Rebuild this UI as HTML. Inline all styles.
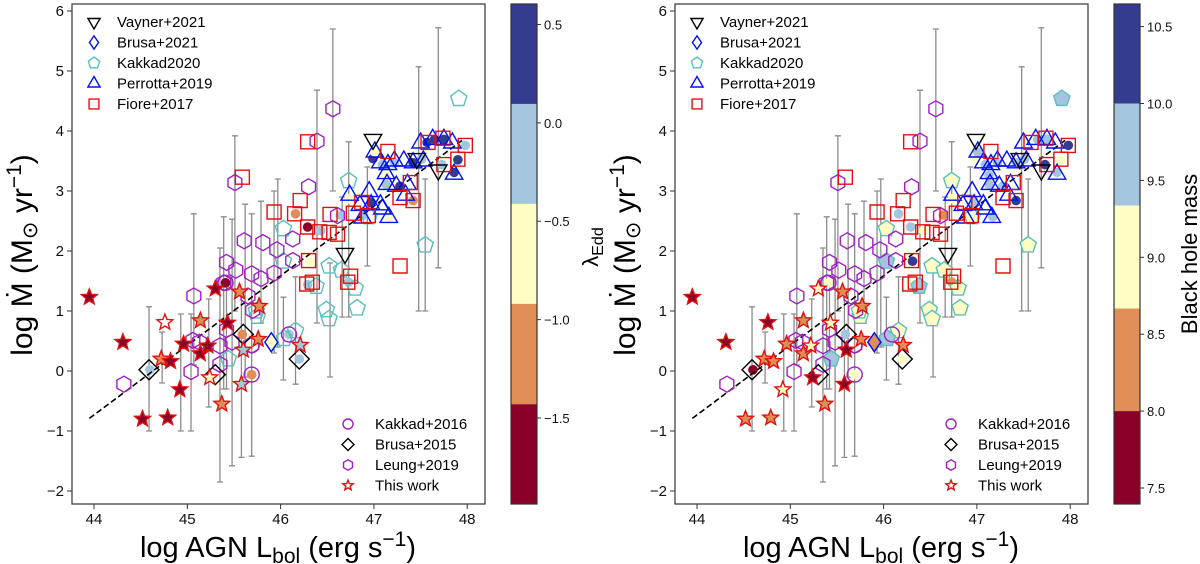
<!DOCTYPE html>
<html><head><meta charset="utf-8"><style>
body{margin:0;background:#fff;}
svg{display:block;font-family:"Liberation Sans","DejaVu Sans",sans-serif;}
</style></head><body>
<svg id="fig" width="1200" height="564" xmlns="http://www.w3.org/2000/svg"></svg>
<script>
// ---- data ----
const errX=[44.59,44.73,44.93,45.04,45.07,45.23,45.35,45.39,45.42,45.48,45.51,45.58,45.62,45.69,45.79,45.93,45.97,46.03,46.16,46.39,46.53,46.56,46.66,46.73,46.93,47.48,47.55,47.69];
const errLo=[-1.0,-0.2,-1.0,-1.0,0.1,-0.6,-1.85,-0.3,-0.3,-1.58,1.0,-1.44,-0.1,-1.42,0.8,0.3,0.4,-0.15,-0.22,0.8,-0.1,3.0,0.9,0.9,1.75,1.0,1.0,1.72];
const errHi=[1.07,0.65,0.95,0.95,2.62,1.2,2.05,2.57,1.5,2.53,3.92,1.3,2.78,2.62,2.83,3.0,3.2,1.23,1.57,4.68,1.8,5.7,2.9,3.82,3.4,5.07,3.2,5.72];
const dotX=[46.99,47.28,47.42,47.57,47.65,47.75,47.90,47.86,46.97,47.98,47.73,47.51,47.22,47.09,47.13,46.64,46.43,46.29,46.73,46.09,46.20,44.60,46.89,47.01,47.13,47.17,46.74,46.31,45.88,46.16,47.42,45.69,45.59,46.29,45.41];
const dotY=[3.54,3.08,3.47,3.81,3.86,3.86,3.52,3.31,2.81,3.76,3.44,3.53,3.47,3.44,3.11,2.60,2.34,1.44,1.48,0.61,0.20,0.02,2.60,3.65,3.26,2.57,2.87,1.83,0.48,2.62,2.84,-0.06,0.61,2.40,1.47];
const dotLam=[0.3,0.3,0.3,0.3,0.3,0.3,0.3,0.3,0.3,-0.2,-0.2,-0.2,-0.2,-0.2,-0.2,-0.2,-0.2,-0.2,-0.2,-0.2,-0.2,-0.2,-0.2,-0.6,-0.6,-0.6,-0.6,-0.6,-0.6,-1.1,-1.1,-1.1,-1.1,-1.7,-1.7];
const dotMass=[9.0,9.6,9.6,9.0,9.6,9.6,9.0,9.6,9.6,10.3,10.3,9.6,9.6,9.6,9.6,8.3,9.0,9.0,8.3,9.6,9.0,7.6,9.0,9.6,9.6,9.6,9.0,10.3,8.3,9.6,10.3,9.0,9.6,9.6,9.0];
const fioreX=[46.29,45.59,45.93,46.15,46.21,46.29,46.42,46.53,46.52,46.61,46.30,46.28,46.34,46.72,46.75,46.78,46.87,46.94,47.15,47.28,47.39,47.42,47.28,47.58,47.74,47.75,47.90,47.98];
const fioreY=[3.82,3.23,2.65,2.62,2.84,2.40,2.32,2.61,2.31,2.28,1.84,1.45,1.48,1.48,1.58,2.63,2.81,2.59,3.66,2.89,3.14,2.84,1.75,3.81,3.88,3.44,3.53,3.76];
const vaynerX=[46.99,46.69,47.69,47.46];
const vaynerY=[3.86,1.96,3.35,3.54];
const perrX=[47.01,47.07,47.22,47.32,47.42,47.53,47.13,47.14,47.24,46.95,46.74,46.85,46.97,47.07,47.09,46.88,47.16,47.34,47.50,47.63,47.75,47.84,47.86,47.36,47.15];
const perrY=[3.65,3.47,3.50,3.50,3.47,3.50,3.29,3.11,3.08,2.99,2.93,2.76,2.77,2.77,2.70,2.55,2.56,2.93,3.80,3.86,3.86,3.80,3.28,3.11,3.44];
const k20X=[47.91,46.73,46.03,46.03,46.52,46.65,46.80,46.38,46.49,46.52,46.82,47.55,45.75,45.44,46.16,46.04,46.95,45.74];
const k20Y=[4.54,3.17,2.37,1.83,1.75,1.68,1.38,1.41,1.02,0.87,1.05,2.10,0.91,0.20,0.67,0.54,2.57,1.00];
const k20Mass=[9.6,9.0,9.0,9.6,9.0,9.0,9.0,9.6,9.0,9.0,9.0,9.0,9.0,9.6,9.0,9.6,9.0,9.0];
const leungX=[45.51,46.39,46.56,46.30,46.61,45.61,45.81,45.96,46.13,45.42,45.52,45.69,45.79,45.93,46.13,45.07,45.65,45.70,45.42,45.06,45.13,45.48,45.35,45.35,45.04,44.32,45.69,45.39];
const leungY=[3.14,3.83,4.37,3.07,2.59,2.17,2.14,2.02,2.20,1.81,1.68,1.62,1.54,1.63,1.84,1.25,1.25,1.01,0.69,0.51,0.48,0.48,0.42,0.11,-0.01,-0.22,0.43,1.47];
const k16X=[45.69,46.09,45.41,45.69];
const k16Y=[-0.06,0.61,1.47,0.43];
const b15X=[44.59,45.30,45.60,46.20];
const b15Y=[0.02,-0.06,0.61,0.20];
const b21X=[45.90];
const b21Y=[0.48];
const starX=[43.95,44.31,44.52,44.79,44.76,44.72,44.82,44.92,44.96,45.14,45.14,45.22,45.24,45.30,45.37,45.43,45.56,45.60,45.58,45.77,45.76,46.21];
const starY=[1.23,0.48,-0.80,-0.78,0.81,0.20,0.16,-0.31,0.45,0.84,0.29,0.42,-0.11,1.37,-0.55,0.80,1.32,0.35,-0.22,1.08,0.53,0.43];
const starLam=[-1.7,-1.7,-1.7,-1.7,null,-1.1,-1.7,-1.7,-1.7,-1.1,-1.7,-1.7,-0.6,-1.7,-1.1,-1.7,-1.1,-0.2,-0.2,-1.1,-1.1,-0.2];
const starMass=[7.6,7.6,8.3,8.3,7.6,8.3,8.3,9.0,8.3,8.3,8.3,9.0,7.6,9.0,8.3,9.0,8.3,7.6,7.6,8.3,8.3,8.3];
const fitX=[43.95,47.96];
const fitY=[-0.79,3.86];
const xTicks=[44,45,46,47,48];
const yTicks=[-2,-1,0,1,2,3,4,5,6];
const lamTicks=[0.5,0.0,-0.5,-1.0,-1.5];
const lamBounds=[0.604,0.096,-0.412,-0.92,-1.43,-1.937];
const massTicks=[10.5,10.0,9.5,9.0,8.5,8.0,7.5];
const massBounds=[10.647,10.0,9.336,8.667,8.0,7.396];
const cmap=['#343c8f','#a4c5de','#fefec4','#e08e56','#8a0028'];

const NS='http://www.w3.org/2000/svg';
const svg=document.getElementById('fig');
function el(tag,attrs,parent){const e=document.createElementNS(NS,tag);for(const k in attrs)e.setAttribute(k,attrs[k]);(parent||svg).appendChild(e);return e;}
function band(v,b){for(let i=1;i<b.length;i++){if(v>=b[i])return cmap[i-1];}return cmap[4];}

function markerPath(type,cx,cy){
  let pts=[];
  if(type==='sq'){const s=7;return `M${cx-s},${cy-s}H${cx+s}V${cy+s}H${cx-s}Z`;}
  if(type==='tri'){pts=[[0,-10],[8.7,5],[-8.7,5]];}
  if(type==='vtri'){pts=[[0,10],[8.7,-5],[-8.7,-5]];}
  if(type==='dia'){pts=[[0,-9.5],[6.5,0],[0,9.5],[-6.5,0]];}
  if(type==='bdia'){pts=[[0,-10],[10,0],[0,10],[-10,0]];}
  if(type==='hex'){for(let i=0;i<6;i++){const a=Math.PI/2+i*Math.PI/3;pts.push([8*Math.cos(a),-8*Math.sin(a)]);}}
  if(type==='pent'){for(let i=0;i<5;i++){const a=Math.PI/2+i*2*Math.PI/5;pts.push([8.5*Math.cos(a),-8.5*Math.sin(a)]);}}
  if(type==='star'){for(let i=0;i<10;i++){const a=Math.PI/2+i*Math.PI/5;const r=i%2?3.6:8.3;pts.push([r*Math.cos(a),-r*Math.sin(a)]);}}
  return 'M'+pts.map(p=>(cx+p[0]).toFixed(1)+','+(cy+p[1]).toFixed(1)).join('L')+'Z';
}
function legendMarker(g,type,cx,cy,stroke,sc){
  const p=el('path',{d:markerPath(type,0,0),fill:'none',stroke:stroke,'stroke-width':1.4/sc,transform:`translate(${cx},${cy}) scale(${sc})`},g);
  
  
}

function panel(off,useMass,id){
  const L=72+off,R=485+off,T=4,B=504;
  const X=v=>94+off+(v-44)*93.3;
  const Y=v=>491-(v+2)*60;
  const g=el('g',{});
  
  
  const clip=el('clipPath',{id:'c'+id},g);el('rect',{x:L,y:T,width:R-L,height:B-T},clip);
  const pg=el('g',{'clip-path':`url(#c${id})`},g);
  errX.forEach((x,i)=>{
    const e=el('path',{d:`M${X(x)},${Y(errLo[i])}V${Y(errHi[i])}M${X(x)-3},${Y(errLo[i])}H${X(x)+3}M${X(x)-3},${Y(errHi[i])}H${X(x)+3}`,stroke:'#8c8c8c','stroke-width':1.3,fill:'none'},pg);
    
    
  });
  dotX.forEach((x,i)=>{
    const c=el('circle',{cx:X(x),cy:Y(dotY[i]),r:4.8,fill:useMass?band(dotMass[i],massBounds):band(dotLam[i],lamBounds)},pg);
    
    
  });
  const fl=el('line',{x1:X(fitX[0]),y1:Y(fitY[0]),x2:X(fitX[1]),y2:Y(fitY[1]),stroke:'#000','stroke-width':1.6,'stroke-dasharray':'6,3'},pg);
  
  
  function series(xs,ys,type,stroke,fills,name){
    xs.forEach((x,i)=>{
      const p=el('path',{d:markerPath(type,X(x),Y(ys[i])),fill:fills?fills[i]:'none',stroke:stroke,'stroke-width':1.4},pg);
      
      
    });
  }
  series(k20X,k20Y,'pent','#5bbfbf',useMass?k20Mass.map(m=>band(m,massBounds)):null,'kakkad2020-point');
  series(leungX,leungY,'hex','#a020c0',null,'leung2019-point');
  k16X.forEach((x,i)=>{const c=el('circle',{cx:X(x),cy:Y(k16Y[i]),r:7.5,fill:'none',stroke:'#a020c0','stroke-width':1.4},pg);
    
    });
  series(b15X,b15Y,'bdia','#000',null,'brusa2015-point');
  series(b21X,b21Y,'dia','#0010f0',[useMass?'#e08e56':'#fefec4'],'brusa2021-point');
  series(perrX,perrY,'tri','#0010f0',null,'perrotta2019-point');
  series(fioreX,fioreY,'sq','#e01010',null,'fiore2017-point');
  series(vaynerX,vaynerY,'vtri','#000',null,'vayner2021-point');
  series(starX,starY,'star','#e01010',starX.map((_,i)=>useMass?band(starMass[i],massBounds):(starLam[i]===null?'#fff':band(starLam[i],lamBounds))),'this-work-point');
  const fr=el('rect',{x:L,y:T,width:R-L,height:B-T,fill:'none',stroke:'#333','stroke-width':1.2},g);
  
  
  xTicks.forEach(t=>{el('line',{x1:X(t),x2:X(t),y1:B,y2:B+5,stroke:'#333'},g);
    const tx=el('text',{x:X(t),y:524,'font-size':15,'text-anchor':'middle',fill:'#111'},g);tx.textContent=t;
    
    });
  yTicks.forEach(t=>{el('line',{x1:L,x2:L-5,y1:Y(t),y2:Y(t),stroke:'#333'},g);
    const tx=el('text',{x:L-8,y:Y(t)+5,'font-size':15,'text-anchor':'end',fill:'#111'},g);tx.textContent=(t<0?'\u2212'+(-t):t);
    
    });
  const xl=el('text',{x:278+off,y:557,'font-size':29,'text-anchor':'middle',fill:'#000'},g);
  xl.innerHTML='log AGN L<tspan font-size="21" dy="6">bol</tspan><tspan dy="-6"> (erg s</tspan><tspan font-size="21" dy="-11">\u22121</tspan><tspan dy="11">)</tspan>';
  
  
  const yl=el('text',{x:0,y:0,'font-size':30,'text-anchor':'middle',fill:'#000',transform:`translate(${32+off},255) rotate(-90)`},g);
  yl.innerHTML='log M\u0307 (M<tspan font-size="21" dy="5">\u2299</tspan><tspan dy="-5"> yr</tspan><tspan font-size="21" dy="-11">\u22121</tspan><tspan dy="11">)</tspan>';
  
  
  const lg=el('g',{},g);
  
  
  const top=[['vtri','#000','Vayner+2021'],['dia','#0010f0','Brusa+2021'],['pent','#5bbfbf','Kakkad2020'],['tri','#0010f0','Perrotta+2019'],['sq','#e01010','Fiore+2017']];
  top.forEach((r,i)=>{const y=22+i*20.5;legendMarker(lg,r[0],98+off-4,y,r[1],0.7);
    const t=el('text',{x:123+off-6,y:y+5,'font-size':15,fill:'#000'},lg);t.textContent=r[2];
    
    });
  const lg2=el('g',{},g);
  
  
  const bot=[['circ','#a020c0','Kakkad+2016'],['bdia','#000','Brusa+2015'],['hex','#a020c0','Leung+2019'],['star','#e01010','This work']];
  bot.forEach((r,i)=>{const y=424+i*20.5;
    if(r[0]==='circ'){el('circle',{cx:350+off-2,cy:y,r:5,fill:'none',stroke:r[1],'stroke-width':1.4},lg2);}
    else legendMarker(lg2,r[0],350+off-2,y,r[1],r[0]==='bdia'?0.6:0.65);
    const t=el('text',{x:375+off,y:y+5,'font-size':15,fill:'#000'},lg2);t.textContent=r[2];
    
    });
  const cb=el('g',{},g);
  
  
  const bounds=useMass?massBounds:lamBounds, ticks=useMass?massTicks:lamTicks;
  const cx0=511+off, cw=26;
  const CY=v=>T+(bounds[0]-v)/(bounds[0]-bounds[5])*(B-T);
  for(let i=0;i<5;i++){const r=el('rect',{x:cx0,y:CY(bounds[i]),width:cw,height:CY(bounds[i+1])-CY(bounds[i]),fill:cmap[i]},cb);
    
    }
  el('rect',{x:cx0,y:T,width:cw,height:B-T,fill:'none',stroke:'#333','stroke-width':1.2},cb);
  ticks.forEach(t=>{const y=CY(t);el('line',{x1:cx0+cw,x2:cx0+cw+4,y1:y,y2:y,stroke:'#333'},cb);
    const tx=el('text',{x:cx0+cw+7,y:y+5,'font-size':13,fill:'#111'},cb);tx.textContent=(t<0?'\u2212':'')+Math.abs(t).toFixed(1);
    
    });
  const cl=el('text',{x:0,y:0,'font-size':22,'text-anchor':'middle',fill:'#000',transform:`translate(${useMass?1197:598},${useMass?254:247}) rotate(-90)`},cb);
  if(useMass)cl.textContent='Black hole mass';else cl.innerHTML='\u03bb<tspan font-size="16" dy="5">Edd</tspan>';
  
  
}
panel(0,false,'left');
panel(603,true,'right');
</script>
</body></html>
